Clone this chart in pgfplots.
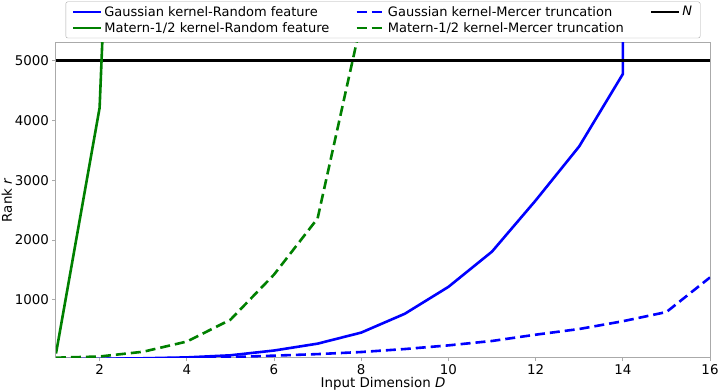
\documentclass[border=0pt]{standalone}
\usepackage{pgfplots}
\pgfplotsset{compat=1.18}
\usepackage{fontspec}
\setmainfont{DejaVu Sans}
\definecolor{mblue}{RGB}{0,0,255}
\definecolor{mgreen}{RGB}{0,128,0}
\definecolor{spine}{RGB}{170,170,170}
\begin{document}
\begin{tikzpicture}
\begin{axis}[
  name=ax,
  scale only axis,
  width=654bp, height=315bp,
  xmin=1, xmax=16, ymin=30, ymax=5300,
  xtick={2,4,...,16},
  ytick={1000,2000,3000,4000,5000},
  /pgf/number format/assume math mode=true,
  /pgf/number format/set thousands separator={},
  tick label style={font=\fontsize{13.4bp}{15bp}\selectfont},
  label style={font=\fontsize{13.4bp}{15bp}\selectfont},
  xlabel={Input Dimension \textit{D}},
  ylabel={Rank \textit{r}},
  xlabel style={yshift=4bp},
  ylabel style={yshift=-4bp},
  axis line style={spine, line width=1bp},
  tick style={spine, line width=0.8bp},
  tick align=outside,
  major tick length=3.5bp,
  xtick pos=bottom, ytick pos=left,
  legend columns=3,
  legend style={at={(rel axis cs:0.5,1)}, anchor=south, yshift=4.5bp,
    font=\fontsize{13bp}{15.5bp}\selectfont, draw=spine, rounded corners=2bp,
    /tikz/every even column/.append style={column sep=24bp},
    row sep=0.5bp, inner xsep=6bp, inner ysep=2.5bp},
  legend cell align=left,
  legend image code/.code={\draw[#1] (0bp,0bp) -- (28bp,0bp);},
]
\addplot[mblue, line width=2.6bp] coordinates {
(1,5)(2,10)(3,20)(4,35)(5,70)(6,150)(7,265)(8,450)(9,765)(10,1215)(11,1805)(12,2660)(13,3565)(14,4775)(14,8000)};
\addlegendentry{Gaussian kernel-Random feature}
\addplot[mblue, line width=2.6bp, dash pattern=on 10bp off 5bp] coordinates {
(1,5)(2,10)(3,15)(4,25)(5,40)(6,64)(7,90)(8,125)(9,175)(10,236)(11,310)(12,415)(13,510)(14,640)(15,794)(16,1373)};
\addlegendentry{Gaussian kernel-Mercer truncation}
\addplot[black, line width=2.6bp] coordinates {(1,5000)(16,5000)};
\addlegendentry{\textit{N}}
\addplot[mgreen, line width=2.6bp] coordinates {
(1,100)(2,4210)(3,22000)};
\addlegendentry{Matern-1/2 kernel-Random feature}
\addplot[mgreen, line width=2.6bp, dash pattern=on 10bp off 5bp] coordinates {
(1,30)(2,50)(3,130)(4,300)(5,665)(6,1420)(7,2360)(8,5650)(9,12000)};
\addlegendentry{Matern-1/2 kernel-Mercer truncation}
\end{axis}
\pgfresetboundingbox
\path ([xshift=-56bp,yshift=-32bp]ax.south west) rectangle ([xshift=10bp,yshift=42.7bp]ax.north east);
\end{tikzpicture}
\end{document}
